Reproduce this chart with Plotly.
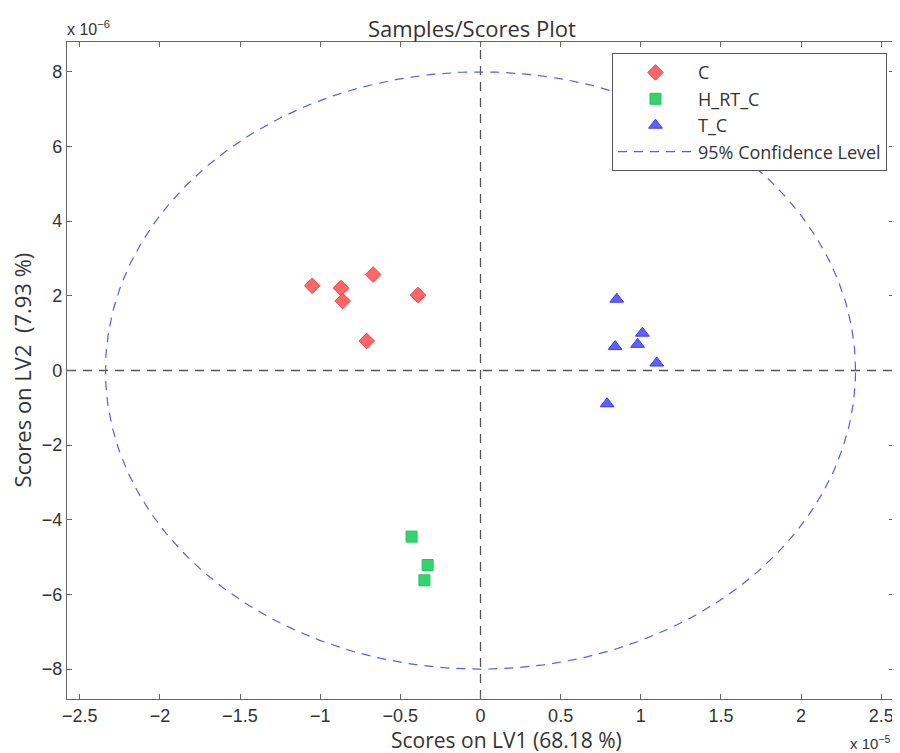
import numpy as np
import plotly.graph_objects as go

# Scores (LV1 in units of 1e-5, LV2 in units of 1e-6)
c_lv1 = [-1.05, -0.87, -0.86, -0.67, -0.39, -0.71]
c_lv2 = [2.27, 2.21, 1.86, 2.57, 2.02, 0.79]
h_lv1 = [-0.43, -0.33, -0.35]
h_lv2 = [-4.45, -5.21, -5.62]
t_lv1 = [0.85, 1.01, 0.84, 0.98, 1.10, 0.79]
t_lv2 = [1.91, 1.00, 0.64, 0.70, 0.20, -0.89]
ellipse_a = 2.34   # x 1e-5
ellipse_b = 8.0    # x 1e-6

x_ticks = [-2.5, -2, -1.5, -1, -0.5, 0, 0.5, 1, 1.5, 2, 2.5]
x_ticklabels = ["−2.5", "−2", "−1.5", "−1", "−0.5", "0", "0.5", "1", "1.5", "2", "2.5"]
y_ticks = [-8, -6, -4, -2, 0, 2, 4, 6, 8]
y_ticklabels = ["−8", "−6", "−4", "−2", "0", "2", "4", "6", "8"]

XR = [-2.58, 2.58]
YR = [-8.8, 8.8]

TXT = "#333333"
MYRIAD = "Open Sans, Noto Sans, sans-serif"
HELV = "Liberation Sans, Arial, sans-serif"

fig = go.Figure()

fig.add_trace(go.Scatter(
    x=c_lv1, y=c_lv2, mode="markers", name="C",
    marker=dict(symbol="diamond", size=12, color="#FF6666",
                line=dict(color="#FF4040", width=1))))
fig.add_trace(go.Scatter(
    x=h_lv1, y=h_lv2, mode="markers", name="H_RT_C",
    marker=dict(symbol="square", size=11, color="#33D470",
                line=dict(color="#1FC45A", width=1))))
fig.add_trace(go.Scatter(
    x=t_lv1, y=t_lv2, mode="markers", name="T_C",
    marker=dict(symbol="triangle-up", size=12, color="#6060FF",
                line=dict(color="#3A3AFF", width=1))))

theta = np.linspace(0, 2 * np.pi, 400)
fig.add_trace(go.Scatter(
    x=ellipse_a * np.cos(theta), y=ellipse_b * np.sin(theta),
    mode="lines", name="95% Confidence Level",
    line=dict(color="#5A5AF0", width=1.2, dash="9px,7px")))

# crosshair
fig.add_shape(type="line", x0=0, x1=0, y0=YR[0], y1=YR[1], xref="x", yref="y",
              line=dict(color="#555555", width=1.3, dash="9px,7px"), layer="below")
fig.add_shape(type="line", x0=XR[0], x1=XR[1], y0=0, y1=0, xref="x", yref="y",
              line=dict(color="#555555", width=1.3, dash="9px,7px"), layer="below")

axis_common = dict(
    showgrid=False, zeroline=False, showline=True, linecolor="#666666", linewidth=1.2,
    mirror="ticks", ticks="inside", ticklen=5, tickcolor="#666666", tickwidth=1,
    automargin=False,
    tickfont=dict(family=HELV, size=18, color=TXT),
)

# the page body adds an 8px offset, so the figure is drawn 8px smaller
fig.update_layout(
    width=892, height=745,
    margin=dict(l=59, r=6, t=34, b=54),
    plot_bgcolor="white", paper_bgcolor="white",
    xaxis=dict(range=XR, tickvals=x_ticks, ticktext=x_ticklabels, **axis_common),
    yaxis=dict(range=YR, tickvals=y_ticks, ticktext=y_ticklabels, **axis_common),
    legend=dict(x=0.659, y=0.983, xanchor="left", yanchor="top",
                bgcolor="white", bordercolor="#555555", borderwidth=1,
                font=dict(family=MYRIAD, size=18, color=TXT),
                itemwidth=75, tracegroupgap=0),
    showlegend=True,
)

fig.add_annotation(text="Samples/Scores Plot", xref="paper", yref="paper", x=0.49, y=1,
                   yshift=14, xanchor="center", yanchor="middle", showarrow=False,
                   font=dict(family=MYRIAD, size=22, color=TXT))
fig.add_annotation(text="Scores on LV1 (68.18 %)", xref="paper", yref="paper", x=0.531, y=0,
                   yshift=-41, xanchor="center", yanchor="middle", showarrow=False,
                   font=dict(family=MYRIAD, size=21, color=TXT))
fig.add_annotation(text="Scores on LV2  (7.93 %)", xref="paper", yref="paper", x=0, y=0.5,
                   xshift=-46, xanchor="center", yanchor="middle", textangle=-90, showarrow=False,
                   font=dict(family=MYRIAD, size=22, color=TXT))
fig.add_annotation(text="x 10<sup>−6</sup>", xref="paper", yref="paper", x=0, y=1, xshift=-2,
                   yshift=2, xanchor="left", yanchor="bottom", showarrow=False,
                   font=dict(family=HELV, size=16, color=TXT))
fig.add_annotation(text="x 10<sup>−5</sup>", xref="paper", yref="paper", x=1, y=0, xshift=-2,
                   yshift=-43, xanchor="right", yanchor="middle", showarrow=False,
                   font=dict(family=HELV, size=15, color=TXT))

fig.write_html("out.html")
